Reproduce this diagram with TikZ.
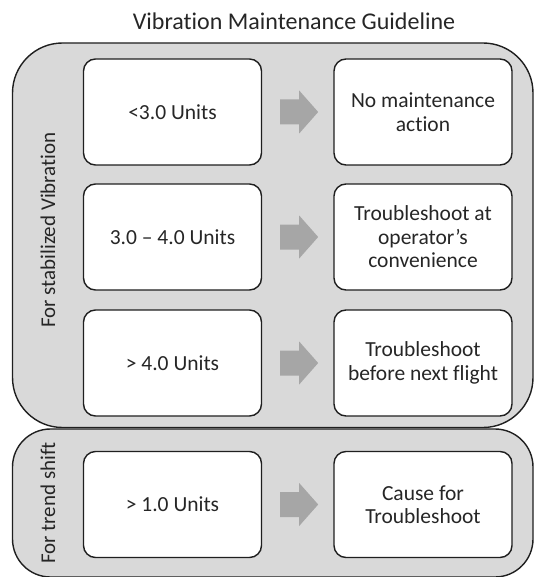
\documentclass[tikz,border=0pt]{standalone}
\usepackage{fontspec}
\setmainfont{Carlito}[Ligatures=NoCommon]
\definecolor{panelgray}{HTML}{D9D9D9}
\definecolor{arrowgray}{HTML}{A6A6A6}
\definecolor{edgeink}{HTML}{1F1F1F}
\definecolor{textink}{HTML}{262626}
\begin{document}
\begin{tikzpicture}[x=1pt,y=-1pt,
  panel/.style={fill=panelgray,draw=edgeink,line width=1.4pt},
  stepbox/.style={draw=edgeink,fill=white,line width=1.4pt,rounded corners=12pt,
    minimum width=178pt,minimum height=106pt,inner sep=0pt,align=center,
    text=textink,font=\fontsize{21.5}{23.5}\selectfont},
  sidelabel/.style={rotate=90,text=textink,font=\fontsize{21}{24}\selectfont,inner sep=0pt},
  blockarrow/.pic={\fill[arrowgray] (-19,-12.5) -- (0,-12.5) -- (0,-21.5) -- (19,0)
    -- (0,21.5) -- (0,12.5) -- (-19,12.5) -- cycle;}]
\useasboundingbox (0,0) rectangle (534,577);

% title
\node[text=textink,font=\fontsize{24}{27}\selectfont] (title) at (294,21) {Vibration Maintenance Guideline};

% grey panels
\draw[panel,rounded corners=50pt] (12.5,43) rectangle (533,427.5);
\draw[panel,rounded corners=38pt] (12.5,429) rectangle (533,577);

% panel captions
\node[sidelabel] (capA) at (48,230) {For stabilized Vibration};
\node[sidelabel] (capB) at (48,503) {For trend shift};

% thresholds (left) and actions (right)
\node[stepbox] (l1) at (172.5,112) {<3.0 Units};
\node[stepbox] (r1) at (423,112) {No maintenance\\action};
\node[stepbox] (l2) at (172.5,237) {3.0 -- 4.0 Units};
\node[stepbox] (r2) at (423,237) {Troubleshoot at\\operator’s\\convenience};
\node[stepbox] (l3) at (172.5,363) {> 4.0 Units};
\node[stepbox] (r3) at (423,363) {Troubleshoot\\before next flight};
\node[stepbox] (l4) at (172.5,504.5) {> 1.0 Units};
\node[stepbox] (r4) at (423,504.5) {Cause for\\Troubleshoot};

% block arrows between each pair
\foreach \i in {1,2,3,4}{
  \path (l\i.east) -- (r\i.west) coordinate[pos=0.52] (m\i);
  \pic at (m\i) {blockarrow};
}
\end{tikzpicture}
\end{document}
